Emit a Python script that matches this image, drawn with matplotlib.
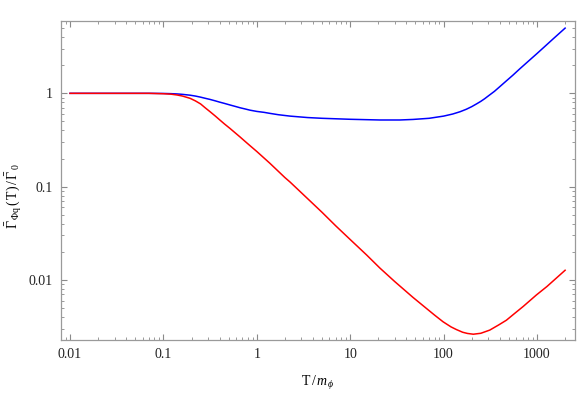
import numpy as np
import matplotlib
matplotlib.use('Agg')
import matplotlib.pyplot as plt
from matplotlib.ticker import LogLocator, NullFormatter

plt.rcParams['font.family'] = ['Liberation Serif', 'DejaVu Serif']
plt.rcParams['mathtext.fontset'] = 'custom'
plt.rcParams['mathtext.rm'] = 'Liberation Serif'
plt.rcParams['mathtext.it'] = 'Liberation Serif:italic'

# blue curve
T_blue = [0.01, 0.03, 0.07, 0.1, 0.12, 0.14, 0.16, 0.193, 0.22, 0.25, 0.28, 0.316,
          0.36, 0.4, 0.45, 0.517, 0.6, 0.663, 0.75, 0.845, 1.0, 1.2, 1.38, 1.7, 2.27,
          3.5, 5.0, 10, 20.8, 34, 47, 70, 100, 125, 150, 175, 200, 225, 250, 275,
          300, 350, 400, 470, 550, 650, 800, 1000, 1200, 1500, 2000]
G_blue = [1.0, 1.0, 1.0, 0.997, 0.992, 0.985, 0.975, 0.955, 0.935, 0.91, 0.885, 0.86,
          0.83, 0.805, 0.78, 0.75, 0.72, 0.70, 0.68, 0.66, 0.64, 0.625, 0.61, 0.59, 0.57,
          0.55, 0.54, 0.527, 0.518, 0.518, 0.525, 0.54, 0.57, 0.60, 0.635, 0.675, 0.72,
          0.77, 0.82, 0.875, 0.935, 1.05, 1.18, 1.36, 1.56, 1.82, 2.19, 2.67, 3.15,
          3.86, 5.0]

# red curve
T_red = [0.01, 0.03, 0.07, 0.1, 0.12, 0.14, 0.16, 0.193, 0.22, 0.25, 0.28, 0.316,
         0.36, 0.4, 0.45, 0.517, 0.6, 0.663, 0.75, 0.845, 1.0, 1.38, 2.0, 2.27, 3.0,
         5.0, 7.0, 10, 15, 20.8, 30, 47, 65, 80, 98.7, 120, 137, 160, 180, 208, 250,
         312, 390, 470, 580, 712, 985, 1277, 1600, 2000]
G_red = [1.0, 1.0, 1.0, 0.99, 0.98, 0.96, 0.935, 0.884, 0.83, 0.77, 0.70, 0.635,
         0.57, 0.52, 0.47, 0.42, 0.37, 0.34, 0.305, 0.275, 0.238, 0.178, 0.125, 0.112,
         0.086, 0.053, 0.038, 0.0271, 0.0185, 0.0134, 0.0096, 0.0065, 0.00498, 0.0042,
         0.00356, 0.00314, 0.00294, 0.00275, 0.00267, 0.00262, 0.00268, 0.0029,
         0.0033, 0.0037, 0.0044, 0.0052, 0.0069, 0.0085, 0.0104, 0.0127]

xticks = [0.01, 0.1, 1, 10, 100, 1000]
xlabels = ['0.01', '0.1', '1', '10', '100', '1000']
yticks = [0.01, 0.1, 1]
ylabels = ['0.01', '0.1', '1']

fig = plt.figure(figsize=(5.81, 3.94), dpi=100)
ax = fig.add_axes([0.1045, 0.137, 0.8852, 0.8097])

ax.plot(T_blue, G_blue, color='#0000ff', lw=1.1)
ax.plot(T_red, G_red, color='#ff0000', lw=1.1)

ax.set_xscale('log')
ax.set_yscale('log')
ax.set_xlim(0.00795, 2553)
ax.set_ylim(0.00227, 5.96)

ax.set_xticks(xticks)
ax.set_xticklabels(xlabels)
ax.set_yticks(yticks)
ax.set_yticklabels(ylabels)
ax.xaxis.set_minor_locator(LogLocator(base=10, subs=np.arange(2, 10)))
ax.yaxis.set_minor_locator(LogLocator(base=10, subs=np.arange(2, 10)))
ax.xaxis.set_minor_formatter(NullFormatter())
ax.yaxis.set_minor_formatter(NullFormatter())

for s in ax.spines.values():
    s.set_color('#9a9a9a')
    s.set_linewidth(0.9)
ax.tick_params(which='both', direction='in', top=True, right=True, color='#8a8a8a',
               labelsize=10, labelcolor='#222222')
ax.tick_params(which='major', length=4.5, width=0.8, pad=6)
ax.tick_params(which='minor', length=2.5, width=0.6)

ax.set_xlabel(r'$\mathrm{T}\,/\,m_{\,\phi}$', fontsize=10)
ax.xaxis.set_label_coords(0.5, -0.105)
ax.set_ylabel(r'$\bar{\Gamma}_{\,\Phi\mathrm{q}}\,(\,\mathrm{T})\,/\,\bar{\Gamma}_{\,0}$',
              fontsize=10)
ax.yaxis.set_label_coords(-0.072, 0.45)

fig.savefig('out.png', dpi=100)
